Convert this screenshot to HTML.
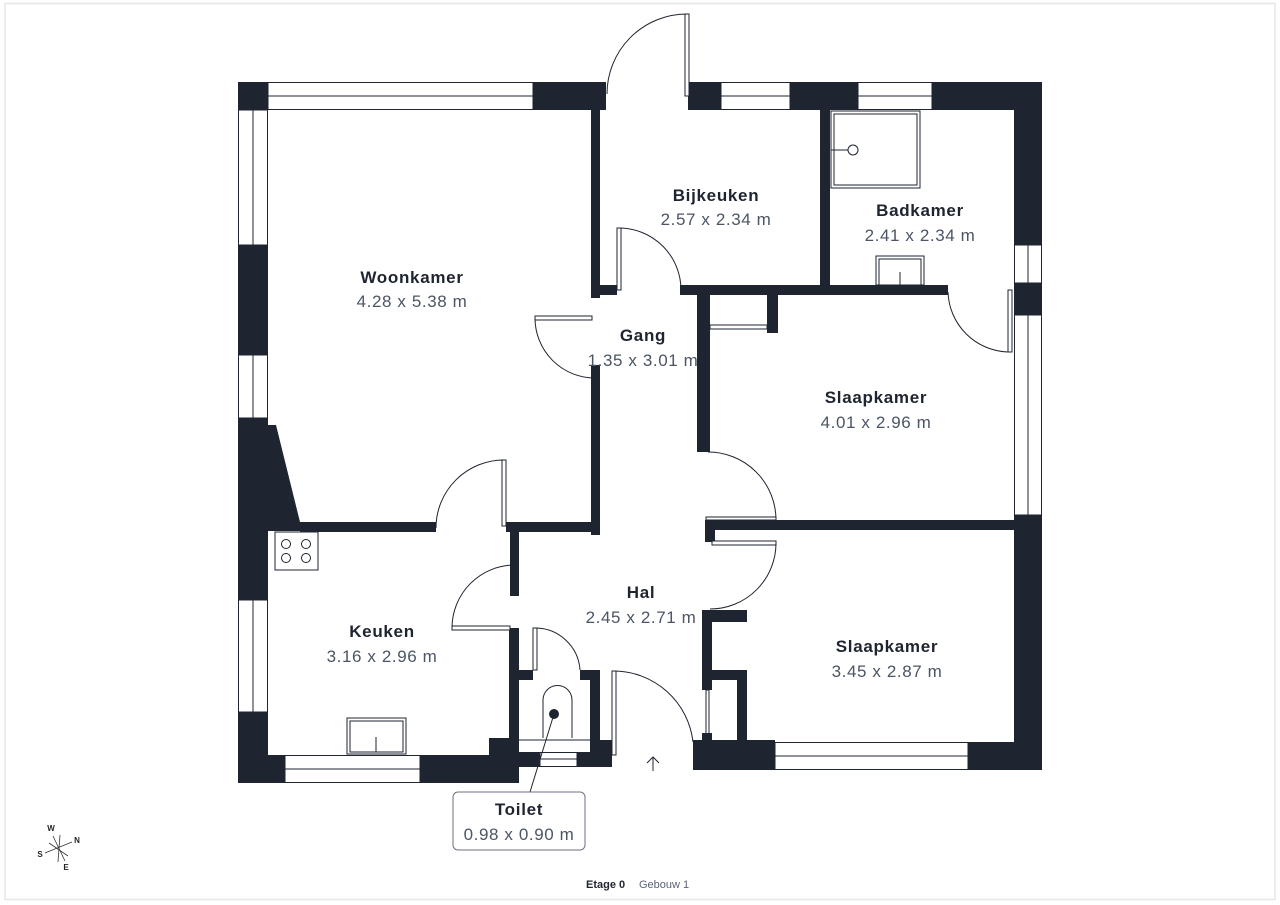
<!DOCTYPE html>
<html><head><meta charset="utf-8"><style>
html,body{margin:0;padding:0;background:#fff;}
svg{display:block;font-family:"Liberation Sans",sans-serif;}
.w{fill:#1e2430;}
.win{fill:#fff;stroke:#1e2430;stroke-width:1;}
.ln{fill:none;stroke:#1e2430;stroke-width:1;}
.t{font-size:17px;font-weight:bold;fill:#1e2430;text-anchor:middle;letter-spacing:0.7px;}
.d{font-size:17px;fill:#4b5565;text-anchor:middle;letter-spacing:0.6px;}
</style></head><body>
<svg width="1280" height="905" viewBox="0 0 1280 905" xmlns="http://www.w3.org/2000/svg">
<rect x="5" y="3.5" width="1270" height="896" fill="none" stroke="#e6e6e6" stroke-width="1.5"/>

<rect class="w" x="238" y="82" width="30" height="28"/>
<rect class="win" x="268" y="82.5" width="265" height="27"/>
<line class="ln" x1="268" y1="96" x2="533" y2="96"/>
<rect class="w" x="533" y="82" width="73" height="28"/>
<rect class="w" x="688" y="82" width="33" height="28"/>
<rect class="win" x="721" y="82.5" width="69" height="27"/>
<line class="ln" x1="721" y1="96" x2="790" y2="96"/>
<rect class="w" x="790" y="82" width="68" height="28"/>
<rect class="win" x="858" y="82.5" width="74" height="27"/>
<line class="ln" x1="858" y1="96" x2="932" y2="96"/>
<rect class="w" x="932" y="82" width="110" height="28"/>
<rect class="w" x="1014" y="110" width="28" height="135"/>
<rect class="win" x="1014.5" y="245" width="27" height="38"/>
<line class="ln" x1="1028" y1="245" x2="1028" y2="283"/>
<rect class="w" x="1014" y="283" width="28" height="32"/>
<rect class="win" x="1014.5" y="315" width="27" height="200"/>
<line class="ln" x1="1028" y1="315" x2="1028" y2="515"/>
<rect class="w" x="1014" y="515" width="28" height="255"/>
<rect class="win" x="238.5" y="110" width="29" height="135"/>
<line class="ln" x1="253" y1="110" x2="253" y2="245"/>
<rect class="w" x="238" y="245" width="30" height="110"/>
<rect class="win" x="238.5" y="355" width="29" height="63"/>
<line class="ln" x1="253" y1="355" x2="253" y2="418"/>
<polygon class="w" points="238,418 268,418 268,425 276,425 300,522 300,531 238,531"/>
<rect class="w" x="238" y="528" width="30" height="72"/>
<rect class="win" x="238.5" y="600" width="29" height="112"/>
<line class="ln" x1="253" y1="600" x2="253" y2="712"/>
<rect class="w" x="238" y="712" width="30" height="71"/>
<rect class="w" x="238" y="755" width="47" height="28"/>
<rect class="win" x="285" y="755.5" width="135" height="27"/>
<line class="ln" x1="285" y1="769" x2="420" y2="769"/>
<rect class="w" x="420" y="755" width="99" height="28"/>
<rect class="w" x="489" y="738" width="30" height="17"/>
<rect class="w" x="509" y="628" width="10" height="112"/>
<rect class="w" x="519" y="670" width="14" height="10"/>
<rect class="w" x="580" y="670" width="20" height="10"/>
<rect class="w" x="590" y="670" width="10" height="85"/>
<rect class="w" x="600" y="740" width="12" height="27"/>
<rect class="w" x="519" y="752" width="21" height="15"/>
<rect class="win" x="540" y="752.5" width="37" height="14"/>
<line class="ln" x1="540" y1="759" x2="577" y2="759"/>
<rect class="w" x="577" y="752" width="35" height="15"/>
<line class="ln" x1="519" y1="740" x2="590" y2="740"/>
<path class="ln" d="M543 738 V700 A14.5 14.5 0 0 1 572 700 V738"/>
<circle cx="554" cy="714" r="5" fill="#1e2430"/>
<line class="ln" x1="554" y1="714" x2="530" y2="792"/>
<rect class="win" x="533" y="628" width="4" height="42"/>
<path class="ln" d="M535 628 A45 45 0 0 1 580 670"/>
<rect class="win" x="612" y="671" width="4" height="84"/>
<path class="ln" d="M614 671 A80 80 0 0 1 693 742"/>
<path class="ln" d="M653 771 V757 M647 763 L653 757 L659 763"/>
<rect class="w" x="702" y="610" width="10" height="80"/>
<rect class="w" x="702" y="610" width="45" height="12"/>
<rect class="w" x="712" y="670" width="35" height="10"/>
<rect class="w" x="737" y="670" width="10" height="72"/>
<rect class="win" x="706" y="690" width="3" height="45"/>
<rect class="w" x="702" y="733" width="10" height="9"/>
<rect class="w" x="693" y="740" width="82" height="30"/>
<rect class="win" x="775" y="742.5" width="193" height="27"/>
<line class="ln" x1="775" y1="756" x2="968" y2="756"/>
<rect class="w" x="968" y="742" width="74" height="28"/>
<rect class="w" x="591" y="110" width="9" height="188"/>
<rect class="w" x="600" y="285" width="17" height="10"/>
<rect class="w" x="591" y="365" width="9" height="170"/>
<rect class="w" x="300" y="522" width="136" height="10"/>
<rect class="w" x="506" y="522" width="94" height="10"/>
<rect class="w" x="510" y="530" width="9" height="66"/>
<rect class="win" x="502" y="460" width="4" height="66"/>
<path class="ln" d="M504 460 A68 68 0 0 0 436 528"/>
<rect class="win" x="535" y="316" width="57" height="4"/>
<path class="ln" d="M535 318 A60 60 0 0 0 595 378"/>
<rect class="win" x="617" y="228" width="4" height="62"/>
<path class="ln" d="M619 228 A62 62 0 0 1 681 290"/>
<rect class="win" x="685" y="14" width="4" height="82"/>
<path class="ln" d="M687 14 A80 80 0 0 0 607 94"/>
<rect class="w" x="680" y="285" width="268" height="10"/>
<rect class="w" x="820" y="110" width="10" height="180"/>
<rect class="w" x="697" y="285" width="13" height="167"/>
<rect class="w" x="767" y="295" width="11" height="38"/>
<rect class="win" x="710" y="325" width="57" height="4"/>
<path class="ln" d="M708 452 A68 68 0 0 1 776 520"/>
<rect class="w" x="705" y="520" width="309" height="10"/>
<rect class="win" x="706" y="517" width="70" height="3"/>
<rect class="w" x="705" y="528" width="10" height="14"/>
<rect class="win" x="712" y="541" width="64" height="4"/>
<path class="ln" d="M776 543 A66 66 0 0 1 710 609"/>
<rect class="win" x="452" y="626" width="58" height="4"/>
<path class="ln" d="M452 628 A63 63 0 0 1 515 565"/>
<rect class="win" x="831" y="111" width="89" height="77"/>
<rect class="ln" x="834" y="114" width="83" height="71"/>
<circle class="ln" cx="853" cy="150" r="5"/>
<line class="ln" x1="831" y1="150" x2="848" y2="150"/>
<rect class="win" x="876" y="256" width="48" height="29"/>
<rect class="ln" x="879" y="259" width="42" height="26"/>
<line class="ln" x1="900" y1="272" x2="900" y2="285"/>
<path class="ln" d="M948 292 A62 62 0 0 0 1008 352"/>
<rect class="win" x="1008" y="290" width="4" height="62"/>
<rect class="win" x="275" y="532" width="43" height="38"/>
<circle class="ln" cx="286" cy="544" r="4.5"/><circle class="ln" cx="306" cy="544" r="4.5"/>
<circle class="ln" cx="286" cy="558" r="4.5"/><circle class="ln" cx="306" cy="558" r="4.5"/>
<rect class="win" x="347" y="718" width="59" height="36"/>
<rect class="ln" x="350" y="721" width="53" height="31"/>
<line class="ln" x1="376" y1="737" x2="376" y2="752"/>

<text class="t" x="412" y="283">Woonkamer</text><text class="d" x="412" y="307">4.28 x 5.38 m</text>
<text class="t" x="716" y="201">Bijkeuken</text><text class="d" x="716" y="225">2.57 x 2.34 m</text>
<text class="t" x="920" y="216">Badkamer</text><text class="d" x="920" y="241">2.41 x 2.34 m</text>
<text class="t" x="643" y="341">Gang</text><text class="d" x="643" y="366">1.35 x 3.01 m</text>
<text class="t" x="876" y="403">Slaapkamer</text><text class="d" x="876" y="428">4.01 x 2.96 m</text>
<text class="t" x="641" y="598">Hal</text><text class="d" x="641" y="623">2.45 x 2.71 m</text>
<text class="t" x="382" y="637">Keuken</text><text class="d" x="382" y="662">3.16 x 2.96 m</text>
<text class="t" x="887" y="652">Slaapkamer</text><text class="d" x="887" y="677">3.45 x 2.87 m</text>
<rect x="453" y="792" width="132" height="58" rx="5" fill="#fff" stroke="#6b7280" stroke-width="1"/>
<text class="t" x="519" y="815">Toilet</text><text class="d" x="519" y="840">0.98 x 0.90 m</text>

<g stroke="#333" stroke-width="0.8">
<line x1="53" y1="836" x2="65" y2="861"/><line x1="45" y1="853" x2="72" y2="842"/>
<line x1="49" y1="843" x2="68" y2="856"/><line x1="60" y1="835" x2="58" y2="862"/>
</g>
<g font-size="8" font-weight="bold" fill="#222" text-anchor="middle">
<text x="51" y="831">W</text><text x="77" y="843">N</text><text x="40" y="857">S</text><text x="66" y="870">E</text>
</g>
<text x="586" y="888" font-size="11" font-weight="bold" fill="#1e2430">Etage 0</text>
<text x="639" y="888" font-size="11" fill="#5b6475">Gebouw 1</text>
</svg>
</body></html>
